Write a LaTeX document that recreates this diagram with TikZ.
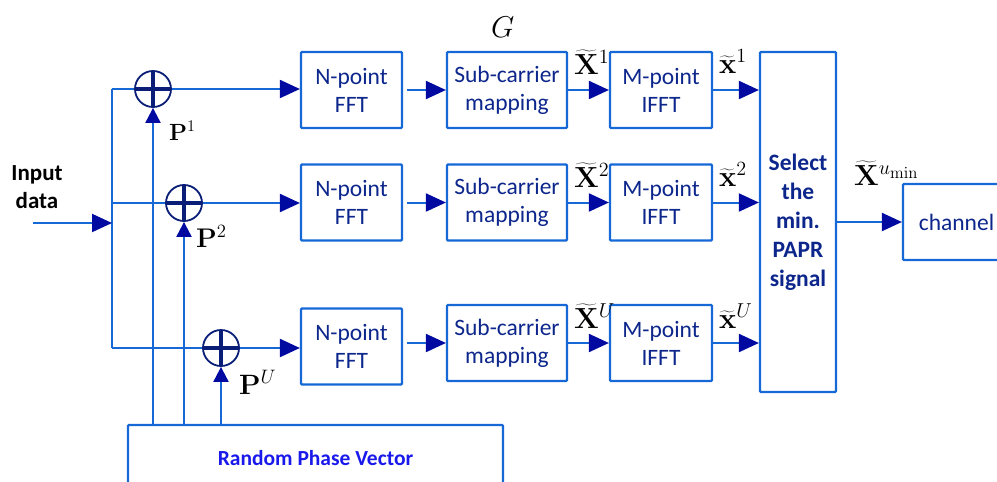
\documentclass[tikz,border=0pt]{standalone}
\usepackage[no-math]{fontspec}
\setmainfont{Carlito}
\usetikzlibrary{arrows.meta}

\definecolor{wire}{RGB}{22,104,214}
\definecolor{tipnavy}{RGB}{0,10,160}
\definecolor{boxtext}{RGB}{12,38,140}
\definecolor{rpvtext}{RGB}{25,25,235}
\definecolor{plusnavy}{RGB}{10,30,120}

% enlarged math label, scaled about its baseline
\newcommand{\siglab}[2][1.4]{\scalebox{#1}{$#2$}}

\tikzset{
  blk/.style={draw=wire, line width=2.2pt, rounded corners=1pt, text=boxtext,
    font=\fontsize{23.5}{28}\selectfont, align=center, inner sep=0pt},
  wireln/.style={draw=wire, line width=2pt},
  arr/.style={wireln, -{Triangle[length=20pt,width=18pt,color=tipnavy]}},
  uparr/.style={wireln, -{Triangle[length=15pt,width=15pt,color=tipnavy]}},
  adder/.style={circle, draw=plusnavy, line width=1.8pt, minimum size=36pt, inner sep=0pt,
    path picture={\draw[plusnavy, line width=3.5pt]
      (path picture bounding box.north) -- (path picture bounding box.south)
      (path picture bounding box.west) -- (path picture bounding box.east);}},
  sig/.style={inner sep=0pt, anchor=base west, font=\fontsize{20.74}{22}\selectfont},
}

\begin{document}
\begin{tikzpicture}[x=1pt, y=-1pt]
\useasboundingbox (0,0) rectangle (997,482);
\clip (0,0) rectangle (997,482);

% processing chains
\foreach \r/\yf/\ys in {1/90/90, 2/202.5/202.5, 3/346.5/343} {
  \node[blk, minimum width=101pt, minimum height=76pt] (fft\r) at (351.5,\yf) {N-point\\FFT};
  \node[blk, minimum width=120pt, minimum height=76pt] (sub\r) at (507,\ys) {Sub-carrier\\mapping};
  \node[blk, minimum width=102pt, minimum height=76pt] (m\r) at (661,\ys) {M-point\\IFFT};
}

\node[blk, minimum width=76pt, minimum height=340pt, font=\fontsize{23.5}{29}\selectfont\bfseries]
  (sel) at (798,222) {Select\\the\\min.\\PAPR\\signal};
\node[blk, minimum width=107pt, minimum height=76pt] (chan) at (956.5,222) {channel};
\node[blk, minimum width=375pt, minimum height=66pt, text=rpvtext,
  font=\fontsize{21.5}{26}\selectfont\bfseries] (rpv) at (315.5,458) {Random Phase Vector};

% adders
\node[adder] (add1) at (153,89) {};
\node[adder] (add2) at (184,203) {};
\node[adder] (add3) at (221,348) {};

% input and distribution bus
\node[font=\fontsize{23}{28}\selectfont\bfseries, align=center, inner sep=0pt] (inlab) at (37,187) {Input\\data};
\coordinate (inp) at (33,223);
\coordinate (bt) at (112,89);
\coordinate (bm) at (112,223);
\coordinate (b2) at (112,203);
\coordinate (bb) at (112,348);
\draw[wireln] (bt) -- (bb);
\draw[arr] (inp) -- (bm);

\draw[wireln] (bt) -- (add1.west);
\draw[wireln] (b2) -- (add2.west);
\draw[wireln] (bb) -- (add3.west);
\foreach \r in {1,2,3} {
  \draw[arr] (add\r.east) -- (fft\r.west |- add\r);
  \draw[arr] ([xshift=4pt]fft\r.east |- sub\r.west) -- (sub\r.west);
  \draw[arr] (sub\r.east) -- (m\r.west);
  \draw[arr] (m\r.east) -- (sel.west |- m\r);
  \draw[uparr] (rpv.north -| add\r) -- (add\r.south);
}
\draw[arr] (sel.east) -- (chan.west);

% signal labels
\node[sig] (G) at (491,37) {\siglab[1.45]{G}};
\node[sig] (X1) at (574,74) {\siglab{\widetilde{\mathbf{X}}^1}};
\node[sig] (x1) at (719,73) {\siglab{\widetilde{\mathbf{x}}^1}};
\node[sig] (X2) at (574,187) {\siglab{\widetilde{\mathbf{X}}^2}};
\node[sig] (x2) at (719,186) {\siglab{\widetilde{\mathbf{x}}^2}};
\node[sig] (XU) at (574,328) {\siglab{\widetilde{\mathbf{X}}^U}};
\node[sig] (xU) at (719,328) {\siglab{\widetilde{\mathbf{x}}^U}};
\node[sig] (Xmin) at (854,185) {\siglab{\widetilde{\mathbf{X}}^{u_{\min}}}};

\node[sig] (P1) at (169,140) {\siglab[1.13]{\mathbf{P}^1}};
\node[sig] (P2) at (196,247) {\siglab[1.3]{\mathbf{P}^2}};
\node[sig] (PU) at (239,394) {\siglab[1.35]{\mathbf{P}^U}};
\end{tikzpicture}
\end{document}
